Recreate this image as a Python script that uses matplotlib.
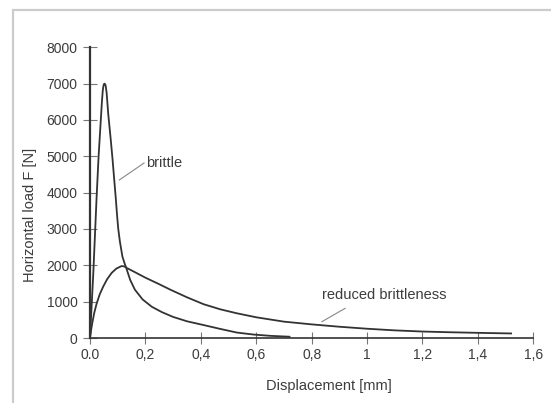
import matplotlib
matplotlib.use('Agg')
import matplotlib.pyplot as plt
from matplotlib.patches import Rectangle

# values
brittle_x = [0, 0.012, 0.024, 0.031, 0.039, 0.043, 0.046, 0.048, 0.050, 0.052, 0.055,
             0.057, 0.060, 0.063, 0.066, 0.0686, 0.075, 0.081, 0.087, 0.093, 0.098,
             0.102, 0.108, 0.117, 0.125, 0.132, 0.145, 0.162, 0.19, 0.223, 0.26,
             0.30, 0.35, 0.409, 0.47, 0.53, 0.59, 0.65, 0.72]
brittle_y = [0, 1800, 3900, 5000, 6000, 6500, 6800, 6920, 6980, 7000, 6980,
             6920, 6750, 6450, 6150, 5950, 5450, 4950, 4400, 3850, 3350,
             3000, 2650, 2240, 2050, 1900, 1600, 1330, 1060, 860, 710,
             580, 460, 358, 250, 150, 95, 60, 35]

reduced_x = [0, 0.004, 0.008, 0.015, 0.024, 0.035, 0.048, 0.062, 0.078, 0.095, 0.114,
             0.124, 0.132, 0.16, 0.2, 0.25, 0.29, 0.35, 0.41, 0.47, 0.53, 0.6,
             0.7, 0.8, 0.9, 1.0, 1.1, 1.2, 1.3, 1.4, 1.52]
reduced_y = [0, 220, 400, 680, 950, 1200, 1420, 1620, 1790, 1910, 1980,
             1970, 1930, 1820, 1660, 1480, 1330, 1120, 930, 790, 680, 570,
             450, 375, 310, 255, 210, 178, 158, 142, 125]

xticks = [0, 0.2, 0.4, 0.6, 0.8, 1.0, 1.2, 1.4, 1.6]
xtick_labels = ['0.0', '0,2', '0,4', '0,6', '0,8', '1', '1,2', '1,4', '1,6']
yticks = [0, 1000, 2000, 3000, 4000, 5000, 6000, 7000, 8000]

plt.rcParams['font.family'] = ['Liberation Sans', 'DejaVu Sans']
dark = '#333333'
txt = '#3c3c3c'

fig = plt.figure(figsize=(5.51, 4.03), dpi=100)
ax = fig.add_axes([90/551, 1-338/403, (533.3-90)/551, (338-47.3)/403])

# light grey frame round the picture
fig.patches.append(Rectangle((12.5/551, -0.05), 1.1, 1-10/403+0.05,
                             transform=fig.transFigure, fill=False,
                             edgecolor='#cccccc', lw=1.6))

ax.plot(brittle_x, brittle_y, color=dark, lw=1.3, solid_joinstyle='round')
ax.plot(reduced_x, reduced_y, color=dark, lw=1.3, solid_joinstyle='round')

ax.set_xlim(0, 1.6)
ax.set_ylim(0, 8000)
ax.set_xticks(xticks)
ax.set_xticklabels(xtick_labels)
ax.set_yticks(yticks)

for s in ['top', 'right']:
    ax.spines[s].set_visible(False)
ax.spines['left'].set_linewidth(1.6)
ax.spines['bottom'].set_linewidth(1.2)
ax.spines['left'].set_color(dark)
ax.spines['bottom'].set_color(dark)

ax.tick_params(axis='y', direction='inout', length=10, width=0.8, colors='#777777',
               labelcolor=txt, labelsize=10, pad=4)
ax.tick_params(axis='x', direction='inout', length=9, width=0.8, colors='#777777',
               labelcolor=txt, labelsize=10, pad=3)

ax.set_xlabel('Displacement [mm]', fontsize=10.5, color=txt)
ax.xaxis.set_label_coords(0.539, -0.14)
ax.set_ylabel('Horizontal load F [N]', fontsize=10.5, color=txt)
ax.yaxis.set_label_coords(-0.12, 0.423)

# labels with leader lines
ax.plot([0.106, 0.195], [4350, 4815], color='#888888', lw=0.8)
ax.text(0.202, 4815, 'brittle', fontsize=10.5, color=txt, ha='left', va='center')
ax.plot([0.837, 0.921], [449, 817], color='#888888', lw=0.8)
ax.text(0.836, 1183, 'reduced brittleness', fontsize=10.5, color=txt, ha='left', va='center')

fig.savefig('out.png', dpi=100)
